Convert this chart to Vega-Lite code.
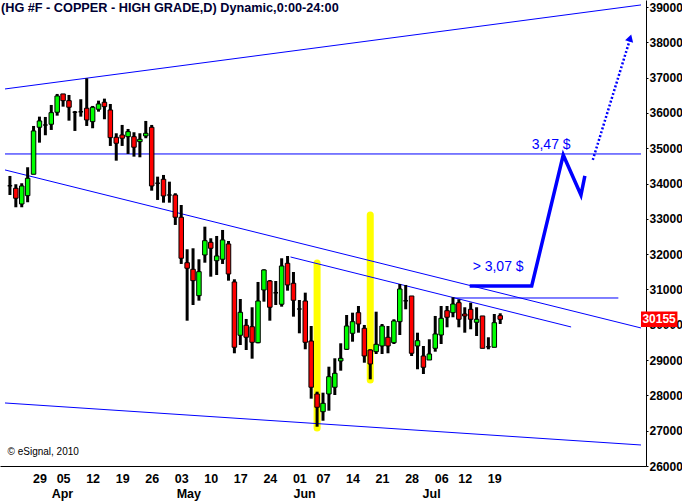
{
  "$schema": "https://vega.github.io/schema/vega-lite/v6.json",
  "width": 646,
  "height": 466,
  "autosize": {"type": "none"},
  "padding": {"left": 0, "top": 0, "right": 36, "bottom": 37},
  "background": "#FFFFFF",
  "title": {"text": "(HG #F - COPPER - HIGH GRADE,D) Dynamic,0:00-24:00", "anchor": "start", "frame": "group", "offset": -15, "font": "Liberation Sans", "fontSize": 12.7, "fontWeight": "bold", "color": "#000033", "dx": 1},
  "config": {
    "view": {"stroke": null},
    "axis": {"labelFont": "Liberation Sans", "labelFontWeight": "bold", "labelFontSize": 12, "labelColor": "#000000", "domainColor": "#000000", "domainWidth": 1, "tickColor": "#000000", "grid": false, "title": null, "labelOverlap": false, "labelFlush": false},
    "axisX": {"labelFontSize": 12.5}
  },
  "datasets": {
    "candles": [
      {"i":0,"o":33941,"h":34216,"l":33677,"c":33941},{"i":1,"o":33867,"h":33981,"l":33329,"c":33584},{"i":2,"o":33422,"h":34009,"l":33329,"c":33932},{"i":3,"o":33658,"h":34462,"l":33471,"c":34151},{"i":4,"o":34264,"h":35632,"l":34264,"c":35491},{"i":5,"o":35595,"h":35896,"l":35159,"c":35774},{"i":6,"o":35661,"h":35887,"l":35369,"c":35661},{"i":7,"o":35680,"h":36227,"l":35519,"c":36009},{"i":8,"o":36020,"h":36539,"l":35924,"c":36482},{"i":9,"o":36539,"h":36539,"l":36179,"c":36349},
      {"i":10,"o":36349,"h":36510,"l":35782,"c":36162},{"i":11,"o":36020,"h":36057,"l":35491,"c":36020},{"i":12,"o":36037,"h":36389,"l":35896,"c":36037},{"i":13,"o":36134,"h":36983,"l":35632,"c":35802},{"i":14,"o":35754,"h":36199,"l":35567,"c":36162},{"i":15,"o":36105,"h":36349,"l":36037,"c":36255},{"i":16,"o":36304,"h":36406,"l":35822,"c":36179},{"i":17,"o":36085,"h":36255,"l":35066,"c":35301},{"i":18,"o":35312,"h":35425,"l":34649,"c":35142},{"i":19,"o":35377,"h":35661,"l":35066,"c":35284},
      {"i":20,"o":35329,"h":35547,"l":34839,"c":35471},{"i":21,"o":35329,"h":35454,"l":34763,"c":35029},{"i":22,"o":35187,"h":35425,"l":34745,"c":35255},{"i":23,"o":35349,"h":35774,"l":35284,"c":35425},{"i":24,"o":35595,"h":35661,"l":33799,"c":33932},{"i":25,"o":34009,"h":34196,"l":33536,"c":34009},{"i":26,"o":34122,"h":34244,"l":33459,"c":33649},{"i":27,"o":33677,"h":34054,"l":33459,"c":33677},{"i":28,"o":33677,"h":33726,"l":32828,"c":33046},{"i":29,"o":33046,"h":33394,"l":31723,"c":31884},
      {"i":30,"o":31759,"h":32139,"l":30116,"c":31601},{"i":31,"o":31572,"h":32167,"l":30561,"c":31250},{"i":32,"o":30825,"h":31856,"l":30683,"c":31505},{"i":33,"o":31978,"h":32779,"l":31759,"c":32383},{"i":34,"o":32337,"h":32451,"l":31363,"c":32167},{"i":35,"o":31816,"h":32516,"l":31411,"c":31949},{"i":36,"o":31856,"h":32686,"l":31723,"c":32403},{"i":37,"o":32289,"h":32374,"l":31250,"c":31439},{"i":38,"o":31213,"h":31289,"l":29193,"c":29363},{"i":39,"o":29703,"h":30731,"l":29428,"c":30354},
      {"i":40,"o":29986,"h":30165,"l":29286,"c":29646},{"i":41,"o":29946,"h":30496,"l":29040,"c":29504},{"i":42,"o":29493,"h":31213,"l":29476,"c":30674},{"i":43,"o":30986,"h":31572,"l":30655,"c":31553},{"i":44,"o":31241,"h":31269,"l":30116,"c":30496},{"i":45,"o":30910,"h":31241,"l":30561,"c":30910},{"i":46,"o":30581,"h":31884,"l":30513,"c":31666},{"i":47,"o":31742,"h":31949,"l":30966,"c":31128},{"i":48,"o":31176,"h":31496,"l":30230,"c":30694},{"i":49,"o":30448,"h":30703,"l":29759,"c":30448},
      {"i":50,"o":30674,"h":30910,"l":29306,"c":29504},{"i":51,"o":29541,"h":29966,"l":27907,"c":28230},{"i":52,"o":28040,"h":28105,"l":27113,"c":27663},{"i":53,"o":27538,"h":28077,"l":27283,"c":27776},{"i":54,"o":28040,"h":28813,"l":27567,"c":28530},{"i":55,"o":28230,"h":29051,"l":28011,"c":28626},{"i":56,"o":28975,"h":29476,"l":28700,"c":29051},{"i":57,"o":29306,"h":30278,"l":29286,"c":29966},{"i":58,"o":29759,"h":30343,"l":29521,"c":30088},{"i":59,"o":30343,"h":30533,"l":29776,"c":30023},
      {"i":60,"o":29901,"h":29995,"l":28926,"c":29116},{"i":61,"o":29286,"h":29306,"l":28456,"c":28890},{"i":62,"o":29238,"h":30371,"l":29173,"c":29448},{"i":63,"o":29400,"h":30023,"l":29173,"c":29966},{"i":64,"o":29646,"h":29966,"l":29193,"c":29400},{"i":65,"o":29493,"h":30156,"l":29456,"c":30108},{"i":66,"o":30088,"h":31156,"l":29711,"c":31014},{"i":67,"o":30683,"h":31128,"l":30439,"c":30683},{"i":68,"o":30816,"h":30816,"l":29116,"c":29193},{"i":69,"o":29400,"h":29776,"l":28740,"c":29550},
      {"i":70,"o":29116,"h":29400,"l":28606,"c":28796},{"i":71,"o":29003,"h":29589,"l":29003,"c":29173},{"i":72,"o":29334,"h":30250,"l":29238,"c":29740},{"i":73,"o":29711,"h":30533,"l":29456,"c":30184},{"i":74,"o":30400,"h":30533,"l":29929,"c":30213},{"i":75,"o":30343,"h":30779,"l":30213,"c":30589},{"i":76,"o":30626,"h":30723,"l":29929,"c":30156},{"i":77,"o":30306,"h":30496,"l":29776,"c":30250},{"i":78,"o":30439,"h":30626,"l":29873,"c":30156},{"i":79,"o":30071,"h":30496,"l":29683,"c":30156},
      {"i":80,"o":30250,"h":30250,"l":29334,"c":29334},{"i":81,"o":29380,"h":29646,"l":29306,"c":29380},{"i":82,"o":29363,"h":30306,"l":29363,"c":30060},{"i":83,"o":30258,"h":30326,"l":30023,"c":30155}
    ],
    "lines": [
      {"x1":-0.833,"y1":36680,"x2":106.833,"y2":39060},
      {"x1":-0.833,"y1":34386,"x2":106.833,"y2":29910},
      {"x1":47.5,"y1":31921,"x2":95,"y2":29938},
      {"x1":-0.833,"y1":34839,"x2":106.833,"y2":34839},
      {"x1":75,"y1":30759,"x2":103,"y2":30759},
      {"x1":-0.833,"y1":27785,"x2":106.833,"y2":26595}
    ],
    "yellow": [
      {"i":52,"lo":27076,"hi":31751},
      {"i":61,"lo":28436,"hi":33110}
    ],
    "path": [
      {"k":0,"i":77.83,"p":31099},{"k":1,"i":88.33,"p":31099},{"k":2,"i":93.67,"p":34810},{"k":3,"i":96.67,"p":33677},{"k":4,"i":97.33,"p":34216}
    ],
    "dotted": [
      {"k":0,"i":98.67,"p":34669},{"k":1,"i":104.9,"p":38050}
    ],
    "arrow": [{"i":105.0,"p":38125}],
    "labels": [
      {"i":78.33,"p":31646,"t":"> 3,07 $"},
      {"i":88.33,"p":35094,"t":"3,47 $"}
    ],
    "copy": [{"i":-0.4,"p":26397,"t":"© eSignal, 2010"}],
    "last": [{"x1":106.833,"x2":113,"y1":29935,"y2":30375,"xm":109.9,"p":30155,"t":"30155"}]
  },
  "layer": [
    {
      "data": {"name": "yellow"},
      "mark": {"type": "rule", "color": "#FFFF00", "strokeWidth": 7, "strokeCap": "round"},
      "encoding": {
        "x": {"field": "i", "type": "quantitative", "scale": {"domain": [-0.8333, 106.8333], "nice": false, "zero": false},
          "axis": {"values": [5, 8.8, 9, 14, 19, 24, 29, 30.2, 34, 39, 44, 49, 49.8, 53, 58, 63, 68, 71.3, 73, 77, 82], "tickCount": 200, "ticks": false, "labelPadding": 6, "labelLineHeight": 15, "labelOverlap": false, "labelBound": false, "labelFlush": false,
            "labelExpr": "datum.value == 8.8 ? ['', 'Apr'] : datum.value == 30.2 ? ['', 'May'] : datum.value == 49.8 ? ['', 'Jun'] : datum.value == 71.3 ? ['', 'Jul'] : ['29','05','12','19','26','03','10','17','24','01','07','14','21','28','06','12','19'][indexof([5,9,14,19,24,29,34,39,44,49,53,58,63,68,73,77,82], datum.value)]"}},
        "y": {"field": "lo", "type": "quantitative", "scale": {"domain": [26000, 39200], "nice": false, "zero": false},
          "axis": {"orient": "right", "values": [26000, 27000, 28000, 29000, 30000, 31000, 32000, 33000, 34000, 35000, 36000, 37000, 38000, 39000], "tickCount": 200, "format": "d", "tickSize": 2, "labelPadding": 1, "labelOverlap": false, "labelFlush": false}},
        "y2": {"field": "hi"}
      }
    },
    {
      "data": {"name": "lines"},
      "mark": {"type": "rule", "color": "#0000FF", "strokeWidth": 1},
      "encoding": {
        "x": {"field": "x1", "type": "quantitative"},
        "x2": {"field": "x2"},
        "y": {"field": "y1", "type": "quantitative"},
        "y2": {"field": "y2"}
      }
    },
    {
      "data": {"name": "candles"},
      "mark": {"type": "rule", "color": "#000000", "strokeWidth": 3},
      "encoding": {
        "x": {"field": "i", "type": "quantitative"},
        "y": {"field": "l", "type": "quantitative"},
        "y2": {"field": "h"}
      }
    },
    {
      "data": {"name": "candles"},
      "mark": {"type": "bar", "width": 4.5, "stroke": "#000000", "strokeWidth": 1},
      "encoding": {
        "x": {"field": "i", "type": "quantitative"},
        "y": {"field": "o", "type": "quantitative"},
        "y2": {"field": "c"},
        "fill": {"condition": [{"test": "datum.c > datum.o", "value": "#00FF00"}, {"test": "datum.c < datum.o", "value": "#FF0000"}], "value": "#000000"},
        "strokeWidth": {"condition": {"test": "datum.c == datum.o", "value": 1.5}, "value": 1}
      }
    },
    {
      "data": {"name": "path"},
      "mark": {"type": "line", "color": "#0000FF", "strokeWidth": 3.5, "strokeJoin": "miter"},
      "encoding": {
        "x": {"field": "i", "type": "quantitative"},
        "y": {"field": "p", "type": "quantitative"},
        "order": {"field": "k"}
      }
    },
    {
      "data": {"name": "dotted"},
      "mark": {"type": "line", "color": "#0000FF", "strokeWidth": 2.5, "strokeDash": [2, 2]},
      "encoding": {
        "x": {"field": "i", "type": "quantitative"},
        "y": {"field": "p", "type": "quantitative"},
        "order": {"field": "k"}
      }
    },
    {
      "data": {"name": "arrow"},
      "mark": {"type": "point", "shape": "triangle-up", "filled": true, "color": "#0000FF", "size": 70, "angle": 17, "opacity": 1},
      "encoding": {
        "x": {"field": "i", "type": "quantitative"},
        "y": {"field": "p", "type": "quantitative"}
      }
    },
    {
      "data": {"name": "labels"},
      "mark": {"type": "text", "align": "left", "baseline": "middle", "font": "Liberation Sans", "fontSize": 14, "color": "#0000FF"},
      "encoding": {
        "x": {"field": "i", "type": "quantitative"},
        "y": {"field": "p", "type": "quantitative"},
        "text": {"field": "t"}
      }
    },
    {
      "data": {"name": "copy"},
      "mark": {"type": "text", "align": "left", "baseline": "middle", "font": "Liberation Sans", "fontSize": 10, "color": "#000000"},
      "encoding": {
        "x": {"field": "i", "type": "quantitative"},
        "y": {"field": "p", "type": "quantitative"},
        "text": {"field": "t"}
      }
    },
    {
      "data": {"name": "last"},
      "mark": {"type": "rect", "color": "#FF0000", "clip": false},
      "encoding": {
        "x": {"field": "x1", "type": "quantitative"},
        "x2": {"field": "x2"},
        "y": {"field": "y1", "type": "quantitative"},
        "y2": {"field": "y2"}
      }
    },
    {
      "data": {"name": "last"},
      "mark": {"type": "text", "align": "center", "baseline": "middle", "font": "Liberation Sans", "fontSize": 12, "fontWeight": "bold", "color": "#FFFFFF", "clip": false},
      "encoding": {
        "x": {"field": "xm", "type": "quantitative"},
        "y": {"field": "p", "type": "quantitative"},
        "text": {"field": "t"}
      }
    }
  ]
}
